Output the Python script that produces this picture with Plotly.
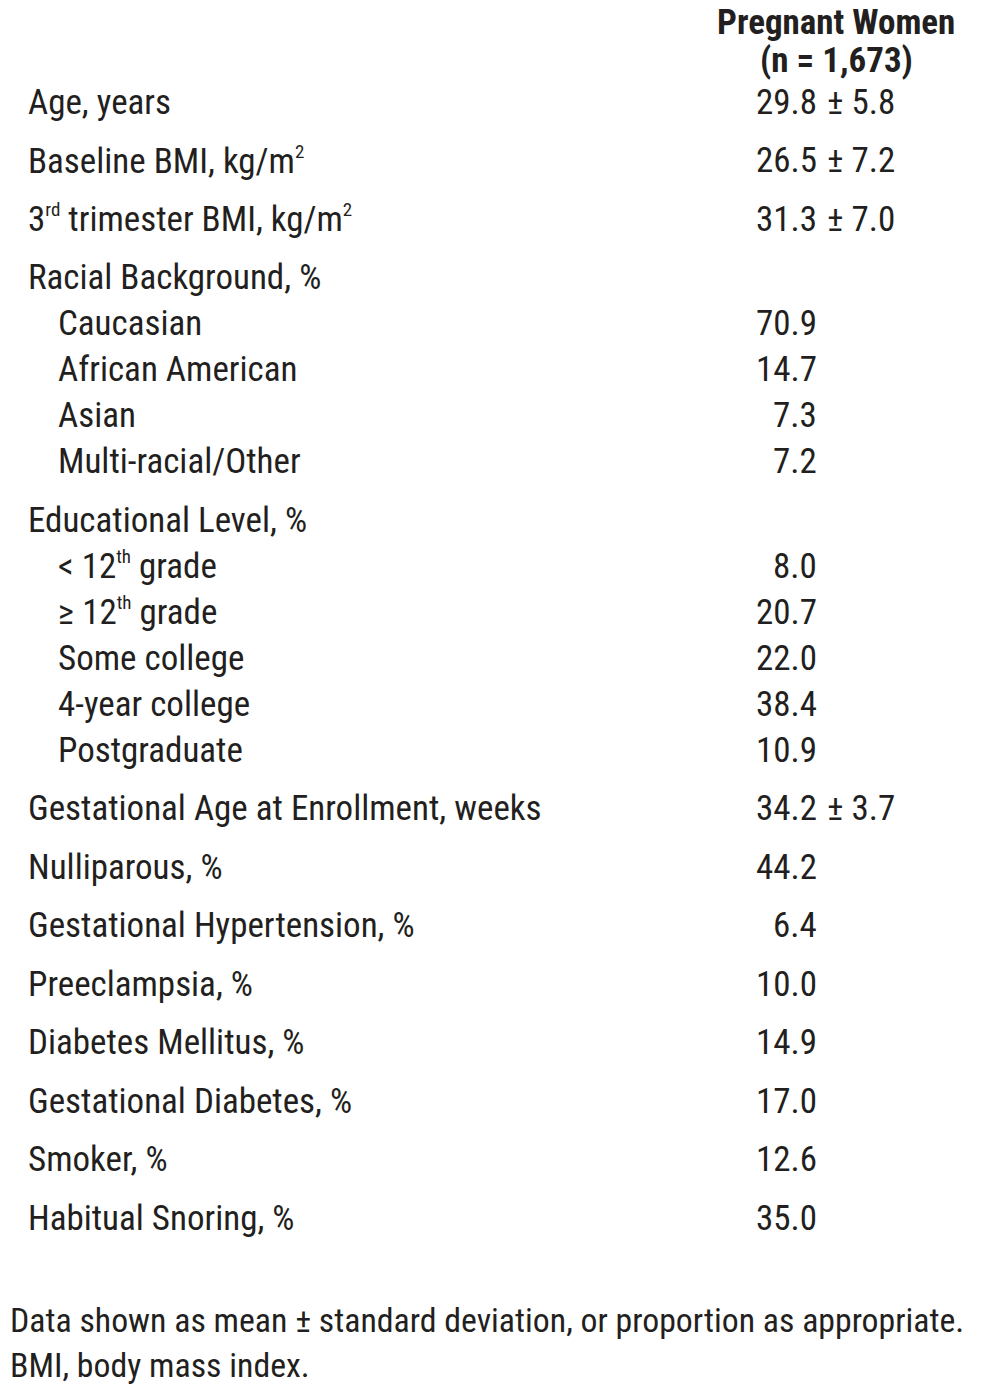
import numpy as np
import plotly.graph_objects as go

# table content
labels = [
    "Age, years",
    "Baseline BMI, kg/m<sup>2</sup>",
    "3<sup>rd</sup> trimester BMI, kg/m<sup>2</sup>",
    "Racial Background, %",
    "Caucasian",
    "African American",
    "Asian",
    "Multi-racial/Other",
    "Educational Level, %",
    "< 12<sup>th</sup> grade",
    "≥ 12<sup>th</sup> grade",
    "Some college",
    "4-year college",
    "Postgraduate",
    "Gestational Age at Enrollment, weeks",
    "Nulliparous, %",
    "Gestational Hypertension, %",
    "Preeclampsia, %",
    "Diabetes Mellitus, %",
    "Gestational Diabetes, %",
    "Smoker, %",
    "Habitual Snoring, %",
]
sub_row = [0, 0, 0, 0, 1, 1, 1, 1, 0, 1, 1, 1, 1, 1, 0, 0, 0, 0, 0, 0, 0, 0]
means = ["29.8", "26.5", "31.3", "", "70.9", "14.7", "7.3", "7.2", "", "8.0", "20.7",
         "22.0", "38.4", "10.9", "34.2", "44.2", "6.4", "10.0", "14.9", "17.0", "12.6", "35.0"]
sds = ["5.8", "7.2", "7.0", "", "", "", "", "", "", "", "", "", "", "", "3.7",
       "", "", "", "", "", "", ""]
header = ["Pregnant Women", "(n = 1,673)"]
footnote = ["Data shown as mean ± standard deviation, or proportion as appropriate.",
            "BMI, body mass index."]

# the page puts the figure 8px in from the corner, so work in page pixels
X0, Y0 = 8, 8
W, H = 965, 1377
FONT = "Roboto Condensed, Liberation Sans Narrow, DejaVu Sans Condensed, sans-serif"
INK = "#231f20"
FS = 35

# row centres: bigger step before a main row, smaller inside a group
steps = [0] + [46 if s else 58.5 for s in sub_row[1:]]
ys = 102 + np.cumsum(steps)

ann = []
def txt(x, y, s, anchor="left", bold=False, size=FS):
    ann.append(dict(x=x, y=y, text=f"<b>{s}</b>" if bold else s, showarrow=False,
                    xanchor=anchor, yanchor="middle", xref="x", yref="y",
                    font=dict(family=FONT, size=size, color=INK)))

for i, lab in enumerate(labels):
    # smaller superscripts, as in the printed table
    lab = lab.replace("<sup>", "<sup><span style='font-size:19px'>").replace("</sup>", "</span></sup>")
    txt(56 if sub_row[i] else 26, ys[i], lab)
    if means[i]:
        txt(819, ys[i], means[i], anchor="right")
    if sds[i]:
        txt(825, ys[i], "± " + sds[i])

txt(836, 22, header[0], anchor="center", bold=True)
txt(836, 60, header[1], anchor="center", bold=True)
txt(X0, 1320, footnote[0], size=33.8)
txt(X0, 1365, footnote[1], size=33.8)

fig = go.Figure()
fig.update_layout(
    width=W, height=H, margin=dict(l=0, r=0, t=0, b=0),
    paper_bgcolor="white", plot_bgcolor="white",
    xaxis=dict(range=[X0, X0 + W], visible=False, fixedrange=True),
    yaxis=dict(range=[Y0 + H, Y0], visible=False, fixedrange=True),
    annotations=ann, showlegend=False,
)
fig.write_html("out.html")
